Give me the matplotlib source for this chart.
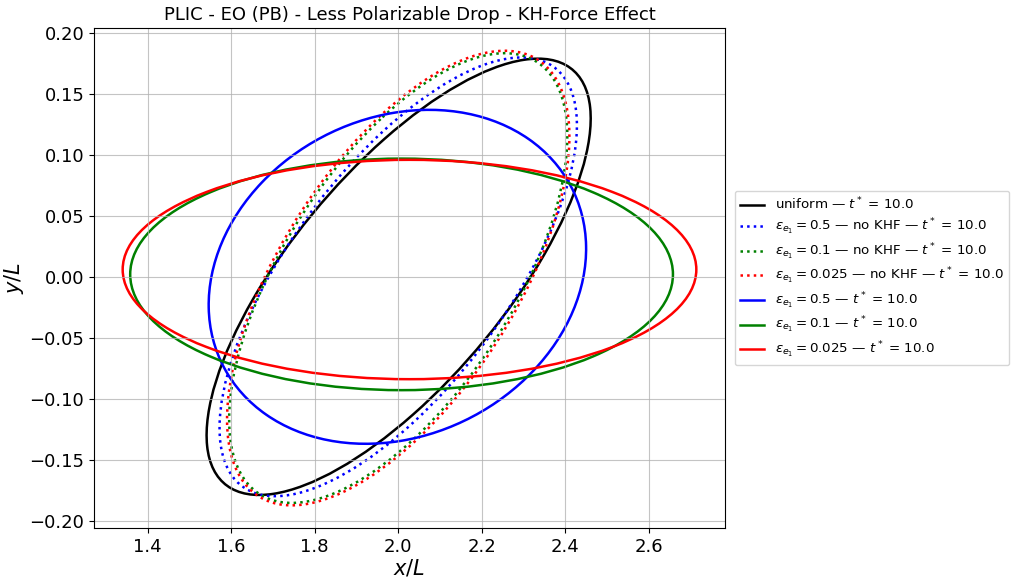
import numpy as np
import matplotlib
matplotlib.use("Agg")
import matplotlib.pyplot as plt
from matplotlib.patches import Ellipse
from matplotlib.lines import Line2D

# drop contours (data units):
# centre, half extent along x, half extent along y, x of the topmost point
labels = [r'uniform — $t^*$ = 10.0',
          r'$\varepsilon_{e_1}=0.5$ — no KHF — $t^*$ = 10.0',
          r'$\varepsilon_{e_1}=0.1$ — no KHF — $t^*$ = 10.0',
          r'$\varepsilon_{e_1}=0.025$ — no KHF — $t^*$ = 10.0',
          r'$\varepsilon_{e_1}=0.5$ — $t^*$ = 10.0',
          r'$\varepsilon_{e_1}=0.1$ — $t^*$ = 10.0',
          r'$\varepsilon_{e_1}=0.025$ — $t^*$ = 10.0']
cx = [2.001, 2.000, 2.000, 2.000, 1.998, 2.008, 2.027]
cy = [0.000, 0.000, -0.001, -0.001, 0.000, 0.002, 0.006]
rx = [0.460, 0.428, 0.405, 0.410, 0.452, 0.650, 0.687]
ry = [0.179, 0.180, 0.1845, 0.1865, 0.137, 0.095, 0.090]
x_top = [2.335, 2.295, 2.255, 2.255, 2.074, 2.008, 2.027]

colors = ['k', 'b', 'g', 'r', 'b', 'g', 'r']
styles = ['-', ':', ':', ':', '-', '-', '-']

fig = plt.figure(figsize=(10.14, 5.79), dpi=100)
ax = fig.add_axes([0.0927, 0.088, 0.6223, 0.8636])

handles = []
for i in range(len(labels)):
    sxy = (x_top[i] - cx[i]) * ry[i]
    M = np.array([[rx[i] ** 2, sxy], [sxy, ry[i] ** 2]])
    vals, vecs = np.linalg.eigh(M)
    ang = np.degrees(np.arctan2(vecs[1, 1], vecs[0, 1]))
    e = Ellipse((cx[i], cy[i]), 2 * np.sqrt(vals[1]), 2 * np.sqrt(vals[0]),
                angle=ang, fill=False, edgecolor=colors[i],
                linestyle=styles[i], linewidth=1.8)
    ax.add_patch(e)
    handles.append(Line2D([], [], color=colors[i], linestyle=styles[i],
                          linewidth=1.8, label=labels[i]))

ax.autoscale_view()
ax.grid(True, alpha=0.75)
ax.tick_params(labelsize=13)
ax.set_xlabel(r'$x/L$', fontsize=15, labelpad=1)
ax.set_ylabel(r'$y/L$', fontsize=15, labelpad=2)
ax.set_title('PLIC - EO (PB) - Less Polarizable Drop - KH-Force Effect', fontsize=13)
ax.legend(handles=handles, loc='center left', bbox_to_anchor=(1.005, 0.5),
          fontsize=9.6, labelspacing=0.33, handlelength=1.8)

fig.savefig('out.png', dpi=100)
